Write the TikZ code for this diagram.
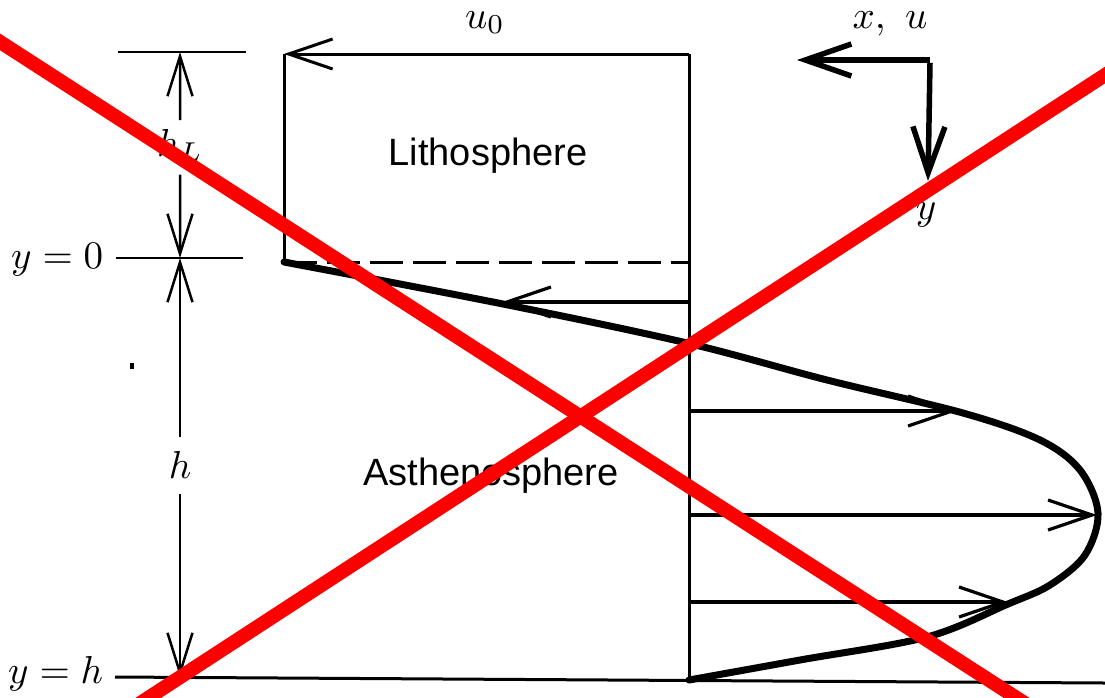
\documentclass[tikz,border=0pt]{standalone}
\usepackage{fontspec}
\newfontfamily\labelfont{Liberation Sans}
\usetikzlibrary{arrows.meta}
\begin{document}
\begin{tikzpicture}[x=1pt,y=-1pt,
  barb/.style={-{Straight Barb[length=44pt,width=30pt]}},
  dimbarb/.style={-{Straight Barb[length=40pt,width=25pt]}},
  axbarb/.style={-{Straight Barb[length=46pt,width=32pt]}},
  thinline/.style={line width=2.5pt},
  boxline/.style={line width=3pt},
  velline/.style={line width=3.2pt, barb},
  profile/.style={line width=7pt, line cap=round, line join=round},
  axline/.style={line width=5.5pt},
  mathlab/.style={scale=3.9, inner sep=0pt},
  sanslab/.style={font=\labelfont, scale=3.8, inner sep=0pt},
  cross/.style={line width=14pt, draw=red}]
\useasboundingbox (0,0) rectangle (1105,697);
\clip (0,0) rectangle (1105,697);
\fill[white] (0,0) rectangle (1105,697);

% reference lines
\coordinate (dTl) at (118,52);  \coordinate (dTr) at (246,52);
\coordinate (d0l) at (116,258); \coordinate (d0r) at (243,258);
\coordinate (dHl) at (115,677); \coordinate (dHr) at (1105,683);
\draw[thinline] (dTl) -- (dTr);
\draw[thinline] (d0l) -- (d0r);
\draw[boxline] (dHl) -- (dHr);

% labels
\node[mathlab, anchor=base east] (y0) at (104,268) {$y = 0$};
\node[mathlab, anchor=base east] (yh) at (104,683) {$y = h$};
\node[mathlab, anchor=base] (hL) at (180,156) {$h_L$};
\node[mathlab, anchor=base] (hh) at (180,478) {$h$};
\node[mathlab, anchor=base] (u0) at (485,28) {$u_0$};
\node[mathlab, anchor=base] (xu) at (890,28) {$x,\ u$};
\node[mathlab, anchor=base] (ylab) at (926,219) {$y$};
\node[sanslab, anchor=base] (litho) at (488,165) {Lithosphere};
\node[sanslab, anchor=base] (astheno) at (491,485) {Asthenosphere};

% dimension arrows
\coordinate (pT) at (180,52);
\coordinate (p0) at (180,258);
\coordinate (pH) at (180,677);
\draw[thinline, dimbarb, shorten <=8pt] (hL) -- (pT);
\draw[thinline, dimbarb, shorten <=12pt] (hL) -- (p0);
\draw[thinline, dimbarb, shorten <=13pt] (hh) -- (p0);
\draw[thinline, dimbarb, shorten <=15pt] (hh) -- (pH);

% stray dot
\fill (130,363) rectangle (134,369);

% lithosphere box
\coordinate (TL) at (284,54);
\coordinate (TR) at (689,54);
\coordinate (BL) at (284,262);
\coordinate (BR) at (689,262);
\coordinate (RB) at (689,680);
\draw[boxline] (TL) -- (BL);
\draw[boxline] (TR) -- (RB);
\draw[boxline, barb] (TR) -- (TL);
\draw[boxline, dash pattern=on 33pt off 10pt] (BL) -- (BR);

% velocity profile
\draw[profile] plot[smooth, tension=0.55] coordinates {
  (284,262) (503,304) (687,343) (827,380) (963,413) (1040,440)
  (1080,470) (1098,513) (1085,555) (1050,585) (1008,604) (927,637) (800,660) (689,680)};

% velocity arrows
\coordinate (v1s) at (689,302);  \coordinate (v1e) at (502,302);
\coordinate (v2s) at (689,411);  \coordinate (v2e) at (957,411);
\coordinate (v3s) at (689,515);  \coordinate (v3e) at (1097,515);
\coordinate (v4s) at (689,602);  \coordinate (v4e) at (1008,602);
\draw[velline] (v1s) -- (v1e);
\draw[velline] (v2s) -- (v2e);
\draw[velline] (v3s) -- (v3e);
\draw[velline] (v4s) -- (v4e);

% axes
\coordinate (ax0) at (930,60);
\coordinate (axx) at (797,60);
\coordinate (axy) at (928,181);
\draw[axline, axbarb] (ax0) -- (axx);
\draw[axline, axbarb] ([yshift=-2.75pt]ax0) -- (axy);

% red cross
\coordinate (r1a) at (-20,29);
\coordinate (r1b) at (1040,713);
\coordinate (r2a) at (1125,62);
\coordinate (r2b) at (125,713);
\draw[cross] (r1a) -- (r1b);
\draw[cross] (r2a) -- (r2b);
\end{tikzpicture}
\end{document}
